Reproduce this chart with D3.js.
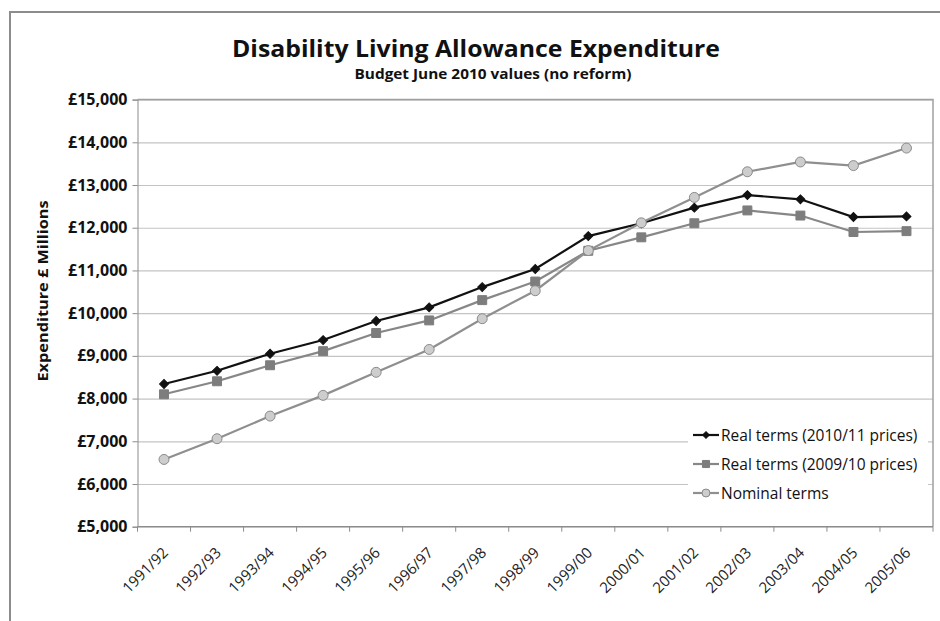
<!DOCTYPE html>
<html>
<head>
<meta charset="utf-8">
<script src="https://cdn.jsdelivr.net/npm/d3@7"></script>
<style>
  body { margin: 0; background: #fff; }
  text { font-family: "Open Sans", sans-serif; }
</style>
</head>
<body>
<script>
// chart data
var years = ["1991/92", "1992/93", "1993/94", "1994/95", "1995/96", "1996/97", "1997/98",
  "1998/99", "1999/00", "2000/01", "2001/02", "2002/03", "2003/04", "2004/05", "2005/06"];
var real1011 = [8340, 8650, 9050, 9370, 9815, 10135, 10610, 11035, 11805, 12105, 12470, 12765, 12665, 12250, 12265];
var real0910 = [8100, 8405, 8780, 9110, 9535, 9830, 10305, 10740, 11460, 11775, 12105, 12405, 12285, 11900, 11920];
var nominal = [6575, 7060, 7590, 8075, 8615, 9150, 9870, 10525, 11465, 12115, 12710, 13310, 13540, 13455, 13865];
var yTicks = [5000, 6000, 7000, 8000, 9000, 10000, 11000, 12000, 13000, 14000, 15000];
var seriesNames = ["Real terms (2010/11 prices)", "Real terms (2009/10 prices)", "Nominal terms"];

window.onload = function () {
  var w = 940, h = 621;
  var svg = d3.select("body").append("svg")
    .attr("width", w)
    .attr("height", h);

  // outer chart frame (runs off the page on right and bottom)
  svg.append("rect")
    .attr("x", 10).attr("y", 12)
    .attr("width", 960).attr("height", 640)
    .attr("fill", "#fff")
    .attr("stroke", "#8c8c8c")
    .attr("stroke-width", 2);

  var left = 137.5, right = 933, top = 99.6, bottom = 526.7;

  var x = d3.scaleBand().domain(years).range([left, right]);
  var y = d3.scaleLinear().domain([5000, 15000]).range([bottom, top]);
  var cx = function (d, i) { return x(years[i]) + x.bandwidth() / 2; };

  // gridlines
  svg.append("g")
    .attr("transform", "translate(" + left + ",0)")
    .call(d3.axisLeft(y).tickValues(yTicks).tickSize(-(right - left)).tickFormat(""))
    .call(function (g) {
      g.select(".domain").remove();
      g.selectAll("line").attr("stroke", "#c4c4c4").attr("stroke-width", 1.2);
    });

  // plot border right + top
  svg.append("path")
    .attr("d", d3.line()([[left, top], [right, top], [right, bottom]]))
    .attr("fill", "none")
    .attr("stroke", "#a0a0a0")
    .attr("stroke-width", 1.5);

  // y axis
  svg.append("g")
    .attr("transform", "translate(" + left + ",0)")
    .call(d3.axisLeft(y).tickValues(yTicks).tickSize(5).tickPadding(5)
      .tickFormat(function (d) { return "£" + d3.format(",")(d); }))
    .call(function (g) {
      g.select(".domain").attr("stroke", "#8c8c8c");
      g.selectAll("line").attr("stroke", "#8c8c8c");
      g.selectAll("text")
        .attr("font-family", "Open Sans")
        .attr("font-size", 16)
        .attr("font-weight", "bold")
        .attr("fill", "#111");
    });

  // x axis line and ticks at category edges
  var xAxis = svg.append("g");
  xAxis.append("line")
    .attr("x1", left).attr("x2", right)
    .attr("y1", bottom).attr("y2", bottom)
    .attr("stroke", "#8c8c8c").attr("stroke-width", 1.2);
  xAxis.selectAll(".tk")
    .data(years.concat(["end"]))
    .enter().append("line")
    .attr("class", "tk")
    .attr("x1", function (d, i) { return i < years.length ? x(d) : x.range()[1]; })
    .attr("x2", function (d, i) { return i < years.length ? x(d) : x.range()[1]; })
    .attr("y1", bottom).attr("y2", bottom + 5)
    .attr("stroke", "#8c8c8c");
  xAxis.selectAll(".lbl")
    .data(years)
    .enter().append("text")
    .attr("class", "lbl")
    .attr("transform", function (d) {
      return "translate(" + (x(d) + x.bandwidth() / 2 + 5) + "," + (bottom + 27) + ") rotate(-45)";
    })
    .attr("text-anchor", "end")
    .attr("font-size", 15)
    .attr("fill", "#222")
    .text(function (d) { return d; });

  // titles
  svg.append("text")
    .attr("x", 476).attr("y", 57)
    .attr("text-anchor", "middle")
    .attr("font-size", 24).attr("font-weight", "bold")
    .attr("textLength", 488).attr("lengthAdjust", "spacingAndGlyphs")
    .attr("fill", "#111")
    .text("Disability Living Allowance Expenditure");
  svg.append("text")
    .attr("x", 493).attr("y", 79)
    .attr("text-anchor", "middle")
    .attr("font-size", 15).attr("font-weight", "bold")
    .attr("textLength", 277).attr("lengthAdjust", "spacingAndGlyphs")
    .attr("fill", "#111")
    .text("Budget June 2010 values (no reform)");
  svg.append("text")
    .attr("transform", "translate(48,291) rotate(-90)")
    .attr("text-anchor", "middle")
    .attr("font-size", 14).attr("font-weight", "bold")
    .attr("textLength", 181).attr("lengthAdjust", "spacingAndGlyphs")
    .attr("fill", "#111")
    .text("Expenditure £ Millions");

  // legend box covers gridlines
  svg.append("rect")
    .attr("x", 688).attr("y", 418)
    .attr("width", 240).attr("height", 92)
    .attr("fill", "#fff");

  var line = d3.line().x(cx).y(function (d) { return y(d); });

  // diamonds are squares turned 45 degrees
  var styles = [
    { data: real1011, stroke: "#111", fill: "#111", mstroke: "#111", shape: d3.symbolSquare, rot: 45, size: 40, lsize: 22 },
    { data: real0910, stroke: "#878787", fill: "#7d7d7d", mstroke: "#7d7d7d", shape: d3.symbolSquare, rot: 0, size: 80, lsize: 50 },
    { data: nominal, stroke: "#8f8f8f", fill: "#cdcdcd", mstroke: "#8a8a8a", shape: d3.symbolCircle, rot: 0, size: 78, lsize: 50 }
  ];

  styles.forEach(function (s, k) {
    svg.append("path")
      .datum(s.data)
      .attr("d", line)
      .attr("fill", "none")
      .attr("stroke", s.stroke)
      .attr("stroke-width", 2.2);
    svg.selectAll(".m" + k)
      .data(s.data)
      .enter().append("path")
      .attr("class", "m" + k)
      .attr("transform", function (d, i) {
        return "translate(" + cx(d, i) + "," + y(d) + ") rotate(" + s.rot + ")";
      })
      .attr("d", d3.symbol().type(s.shape).size(s.size))
      .attr("fill", s.fill)
      .attr("stroke", s.mstroke)
      .attr("stroke-width", 1);

    // legend entry
    var ly = 435 + k * 29;
    svg.append("line")
      .attr("x1", 693).attr("x2", 719)
      .attr("y1", ly).attr("y2", ly)
      .attr("stroke", s.stroke).attr("stroke-width", 2.2);
    svg.append("path")
      .attr("transform", "translate(706," + ly + ") rotate(" + s.rot + ")")
      .attr("d", d3.symbol().type(s.shape).size(s.lsize))
      .attr("fill", s.fill)
      .attr("stroke", s.mstroke);
    svg.append("text")
      .attr("x", 721).attr("y", ly + 5.5)
      .attr("font-size", 15.5)
      .attr("fill", "#111")
      .text(seriesNames[k]);
  });
};
</script>
</body>
</html>
